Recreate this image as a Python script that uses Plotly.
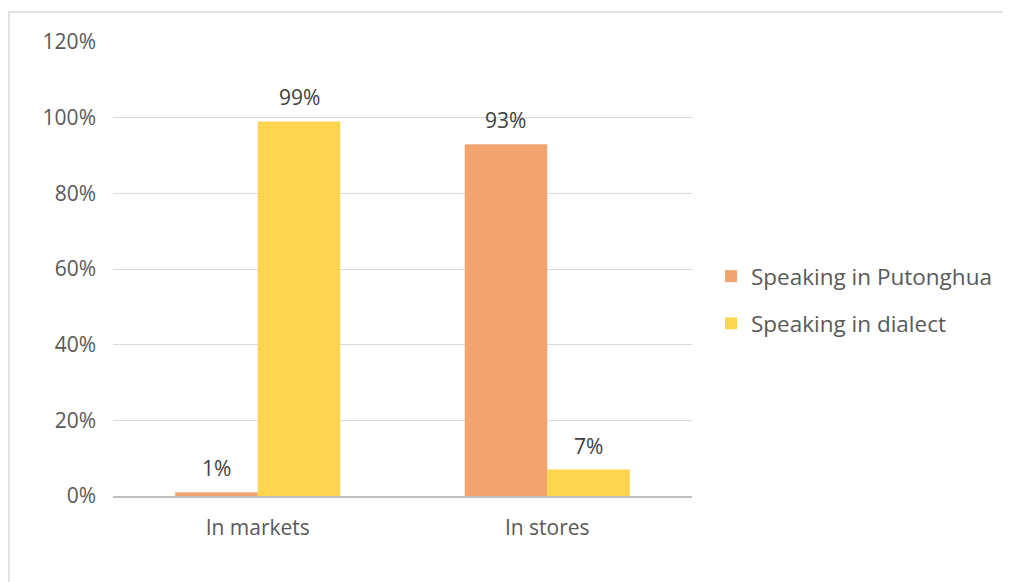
import plotly.graph_objects as go

categories = ["In markets", "In stores"]
putonghua = [1, 93]
dialect = [99, 7]
series_names = ["Speaking in Putonghua", "Speaking in dialect"]
y_ticks = [0, 20, 40, 60, 80, 100, 120]
y_tick_labels = ["0%", "20%", "40%", "60%", "80%", "100%", "120%"]

colors = ["#F2A46E", "#FFD44F"]
font_family = "Open Sans, Liberation Sans, sans-serif"

OFF = 8  # page body offset
W, H = 1011, 582
ml, mt = 113 - OFF, 42 - OFF
pw, ph = 579, 454
mr = W - ml - pw
mb = H - mt - ph
bargap = 0.43
bar_px = pw / len(categories) * (1 - bargap) / 2

def px_x(sx):
    return (sx - OFF - ml) / pw

def px_y(sy):
    return (mt + ph - (sy - OFF)) / ph

fig = go.Figure()
series = [(series_names[0], putonghua, colors[0], "a", -0.5),
          (series_names[1], dialect, colors[1], "b", 0.5)]
for name, vals, col, grp, side in series:
    fig.add_trace(go.Bar(
        x=categories, y=vals, name=name, marker_color=col, marker_line_width=0,
        legendgroup=grp,
    ))
    for c, v in zip(categories, vals):
        fig.add_annotation(x=c, y=v, text=f"{v}%", showarrow=False,
                           xshift=side * bar_px, yshift=24, yanchor="middle",
                           font=dict(size=21, color="#404040", family=font_family))

fig.update_layout(
    width=W, height=H,
    margin=dict(l=ml, r=mr, t=mt, b=mb),
    paper_bgcolor="white", plot_bgcolor="white",
    barmode="group", bargap=bargap, bargroupgap=0,
    font=dict(family=font_family, color="#595959", size=21),
    legend=dict(x=px_x(711), y=px_y(300), xanchor="left", yanchor="middle",
                font=dict(size=22.5, color="#595959"), tracegroupgap=15,
                itemwidth=30, bgcolor="rgba(0,0,0,0)"),
    showlegend=True,
)
fig.update_yaxes(range=[0, 120], tickvals=y_ticks, ticktext=y_tick_labels,
                 showgrid=True, gridcolor="#D9D9D9", gridwidth=1,
                 zeroline=False, showline=False, ticks="", ticklen=0,
                 ticklabelstandoff=16,
                 tickfont=dict(size=21, color="#595959"))
fig.update_xaxes(showline=True, linecolor="#BFBFBF", linewidth=2, ticks="",
                 ticklabelstandoff=12,
                 tickfont=dict(size=21, color="#595959"))

# outer chart border
fig.add_shape(type="rect", xref="paper", yref="paper",
              x0=px_x(9), x1=px_x(1030),
              y0=px_y(600), y1=px_y(12),
              line=dict(color="#D9D9D9", width=1.5), fillcolor="rgba(0,0,0,0)", layer="below")

fig.write_html("out.html")
